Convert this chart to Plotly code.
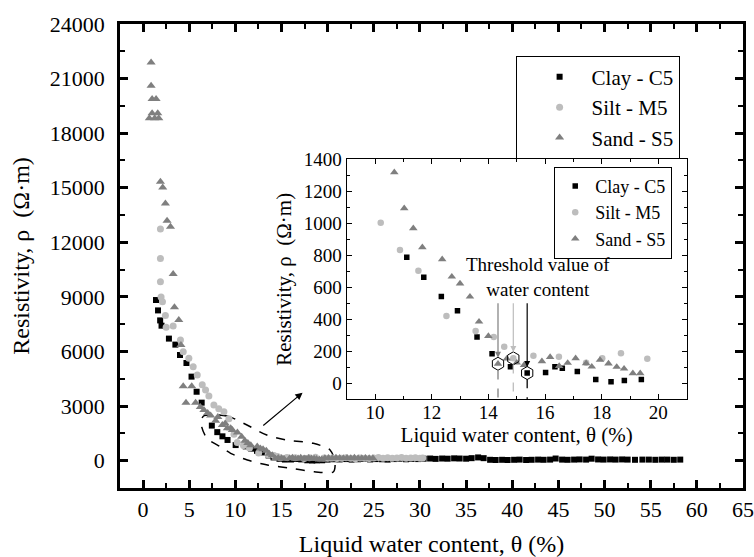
import plotly.graph_objects as go

FONT = "Liberation Serif, Times New Roman, Times, serif"

# ---------------- main chart data ----------------
clay_early_x = [1.40, 1.62, 1.85, 2.00, 2.80, 3.50, 4.00, 4.70, 5.25, 5.80, 6.35, 7.45, 8.04, 8.60, 9.15, 10.03]
clay_early_y = [8830, 8260, 7710, 7420, 6710, 6380, 5810, 5370, 4620, 3790, 3190, 1930, 1570, 1340, 1140, 860]
clay_tail_x = [20.0, 20.7, 21.3, 22.0, 22.6, 23.3, 23.9, 24.6, 25.2, 25.9, 26.5, 27.2, 27.8, 28.5, 29.1, 29.8,
               30.4, 31.1, 31.7, 32.4, 33.0, 33.7, 34.3, 35.0, 35.6, 36.3, 36.9,
               37.6, 38.2, 38.9, 39.5, 40.2, 40.8, 41.5, 42.1, 42.8, 43.4, 44.1, 44.7,
               45.4, 46.0, 46.7, 47.3, 48.0, 48.6, 49.3, 49.9, 50.6, 51.2, 51.9, 52.5, 53.3, 54.1, 54.8,
               55.5, 56.2, 56.8, 57.5, 58.2]
clay_tail_y = [60, 80, 70, 90, 60, 80, 100, 70, 90, 80, 60, 90, 110, 80, 100, 90,
               110, 120, 100, 120, 110, 130, 120, 110, 140, 180, 140,
               50, 40, 50, 40, 50, 60, 40, 50, 60, 50, 60, 120,
               60, 50, 60, 70, 60, 110, 70, 60, 70, 60, 70, 60, 50, 60, 60,
               50, 60, 60, 50, 60]

silt_early_x = [1.88, 1.88, 1.88, 1.95, 2.10, 2.42, 2.50, 3.26, 4.05, 4.35, 4.96, 5.43, 5.87, 6.41, 6.77, 7.13,
                7.67, 8.20, 8.76, 9.30, 9.85]
silt_early_y = [12730, 11110, 9840, 8990, 8740, 7980, 7340, 7400, 6630, 5990, 5630, 5170, 4710, 4180, 3890, 3560,
                3060, 2850, 2690, 2300, 1450]
silt_tail_x = [20.0, 20.5, 21.0, 21.5, 22.0, 22.5, 23.0, 23.5, 24.0, 24.5, 25.0, 25.5, 26.0, 26.5, 27.0, 27.5,
               28.0, 28.5, 29.0, 29.5, 30.0, 30.3]
silt_tail_y = [130, 150, 120, 140, 160, 130, 110, 150, 140, 120, 150, 170, 140, 160, 130, 150,
               170, 140, 150, 160, 130, 150]

sand_early_x = [0.68, 0.87, 0.87, 0.98, 1.41, 0.98, 1.59, 1.26, 1.70, 1.88, 2.13, 2.42, 2.60, 2.97, 3.26, 3.40,
                3.87, 4.10, 4.35, 5.27, 4.65, 5.69, 6.20, 6.59, 7.00, 7.32, 7.86, 8.10, 8.59, 8.90, 9.13, 9.49,
                9.67, 10.22]
sand_early_y = [18815, 21890, 20600, 19880, 19880, 19090, 19090, 18815, 18815, 15330, 15020, 14140, 13190, 12860,
                10260, 8430, 7730, 6360, 4090, 4090, 3190, 3190, 2950, 2780, 2620, 2480, 2200, 2400, 1960, 2050,
                1780, 1780, 1690, 1550]
sand_tail_x = [19.7, 20.1, 20.5, 20.9, 21.3, 21.7, 22.1, 22.5, 22.9, 23.3, 23.7, 24.1, 24.5, 24.9]
sand_tail_y = [130, 150, 140, 160, 150, 130, 150, 140, 160, 140, 130, 150, 140, 130]

# ---------------- inset data (also shown in the main chart) ----------------
clay_inset_x = [11.12, 11.72, 12.34, 12.91, 13.60, 14.13, 14.78, 15.37, 16.02, 16.35, 16.61, 17.14, 17.79, 18.33,
                18.80, 19.40]
clay_inset_y = [788, 663, 543, 454, 290, 185, 104, 64, 67, 104, 94, 73, 23, 10, 18, 23]
silt_inset_x = [10.20, 10.88, 11.53, 12.52, 13.55, 14.19, 14.56, 14.88, 15.59, 16.49, 17.45, 18.02, 18.68, 19.61]
silt_inset_y = [1004, 833, 704, 421, 327, 290, 229, 156, 172, 166, 128, 156, 188, 154]
sand_inset_x = [10.68, 11.03, 11.35, 11.67, 12.37, 12.71, 13.00, 13.35, 13.67, 14.00, 14.34, 14.65, 15.00, 15.26,
                15.89, 16.18, 16.50, 16.80, 17.08, 17.45, 17.65, 17.94, 18.24, 18.53, 18.79, 19.10, 19.36]
sand_inset_y = [1319, 1094, 969, 850, 775, 666, 623, 541, 385, 295, 122, 154, 129, 114, 137, 164, 108, 127, 156,
                125, 104, 146, 123, 102, 91, 62, 62]

# threshold points (clay, silt, sand)
thr_names = ["Clay", "Silt", "Sand"]
thr_x = [15.37, 14.88, 14.34]
thr_y = [64, 156, 122]
thr_colors = ["#000000", "#bdbdbd", "#7f7f7f"]

# dashed outline marking the zoomed region
outline_x = [6.55, 9.08, 11.26, 13.4, 15.57, 18.44, 20.26, 20.8, 20.6, 18.55, 16.0, 13.48, 11.3, 9.49, 8.4, 6.9,
             6.3, 6.55]
outline_y = [2456, 2456, 1962, 1412, 1137, 956, 588, -100, -620, -604, -417, -236, 38, 407, 760, 1250, 2000, 2456]

series = [
    ("Clay - C5", clay_early_x + clay_inset_x + clay_tail_x, clay_early_y + clay_inset_y + clay_tail_y,
     clay_inset_x, clay_inset_y, "square", "#000000", 6, 5.5),
    ("Silt - M5", silt_early_x + silt_inset_x + silt_tail_x, silt_early_y + silt_inset_y + silt_tail_y,
     silt_inset_x, silt_inset_y, "circle", "#bdbdbd", 7, 6.5),
    ("Sand - S5", sand_early_x + sand_inset_x + sand_tail_x, sand_early_y + sand_inset_y + sand_tail_y,
     sand_inset_x, sand_inset_y, "triangle-up", "#7f7f7f", 8, 7.5),
]

fig = go.Figure()

fig.add_trace(go.Scatter(x=outline_x, y=outline_y, mode="lines", showlegend=False, hoverinfo="skip",
                         line=dict(color="black", width=1.5, dash="dash", shape="spline", smoothing=0.8)))

for name, mx, my, ix, iy, sym, col, msz, isz in series:
    fig.add_trace(go.Scatter(x=mx, y=my, mode="markers", name=name, legend="legend",
                             marker=dict(symbol=sym, size=msz, color=col, line=dict(width=0))))
for name, mx, my, ix, iy, sym, col, msz, isz in series:
    fig.add_trace(go.Scatter(x=ix, y=iy, mode="markers", name=name, legend="legend2",
                             xaxis="x2", yaxis="y2",
                             marker=dict(symbol=sym, size=isz, color=col, line=dict(width=0))))

fig.add_trace(go.Scatter(x=thr_x, y=thr_y, mode="markers", showlegend=False, xaxis="x2", yaxis="y2",
                         marker=dict(symbol="hexagon-open", size=13, color="black", line=dict(width=1))))

# threshold arrows and dashed drop lines
arrow_top = [510, 510, 510]
arrow_tip = [102, 196, 160]
drop_top = [25, 118, 80]
for tx, col, at, tip, dt in zip(thr_x, thr_colors, arrow_top, arrow_tip, drop_top):
    fig.add_annotation(x=tx, y=tip, ax=tx, ay=at, xref="x2", yref="y2", axref="x2", ayref="y2",
                       showarrow=True, arrowhead=2, arrowsize=1, arrowwidth=1.2, arrowcolor=col, text="")
    fig.add_shape(type="line", xref="x2", yref="y2", x0=tx, x1=tx, y0=dt, y1=-100,
                  line=dict(color=col, width=1.3, dash="dash"))

fig.add_annotation(x=15.75, y=666, xref="x2", yref="y2", showarrow=False,
                   text="Threshold value of<br>water content",
                   font=dict(family=FONT, size=19, color="black"))

# arrow from the outlined region to the inset
fig.add_annotation(x=17.28, y=3737, ax=12.86, ay=1868, xref="x", yref="y", axref="x", ayref="y",
                   showarrow=True, arrowhead=2, arrowsize=1.2, arrowwidth=1.2, arrowcolor="black", text="")

axis_main = dict(showline=True, linecolor="black", linewidth=2.5, mirror="ticks", ticks="inside",
                 tickwidth=2.5, ticklen=8, tickcolor="black", showgrid=False, zeroline=False,
                 automargin=False, tickformat="d",
                 tickfont=dict(family=FONT, size=22, color="black"),
                 title_font=dict(family=FONT, size=24, color="black"))
axis_in = dict(showline=True, linecolor="black", linewidth=1.3, mirror="ticks", ticks="inside",
               tickwidth=1.2, ticklen=5, tickcolor="black", showgrid=False, zeroline=False,
               automargin=False, tickformat="d",
               tickfont=dict(family=FONT, size=19, color="black"),
               title_font=dict(family=FONT, size=21, color="black"))

fig.update_layout(
    width=754, height=557,
    margin=dict(l=120, r=11, t=24, b=69, autoexpand=False),
    paper_bgcolor="white", plot_bgcolor="white",
    font=dict(family=FONT, color="black"),
    xaxis=dict(axis_main, range=[-2.5, 65], tick0=0, dtick=5, ticklabelstandoff=0,
               minor=dict(dtick=2.5, ticks="inside", ticklen=5, tickwidth=2, tickcolor="black"),
               title=dict(text="Liquid water content, θ (%)", standoff=18)),
    yaxis=dict(axis_main, range=[-1500, 24000], tick0=0, dtick=3000, ticklabelstandoff=8,
               minor=dict(dtick=1500, ticks="inside", ticklen=5, tickwidth=2, tickcolor="black"),
               title=dict(text="Resistivity, ρ  (Ω·m)", standoff=14)),
    xaxis2=dict(axis_in, domain=[0.3639, 0.9096], anchor="y2", range=[9, 21], tick0=10, dtick=2,
                ticklabelstandoff=-4,
                minor=dict(dtick=1, ticks="inside", ticklen=3, tickwidth=1, tickcolor="black"),
                title=dict(text="Liquid water content, θ (%)", standoff=4)),
    yaxis2=dict(axis_in, domain=[0.1912, 0.7084], anchor="x2", range=[-100, 1400], tick0=0, dtick=200,
                ticklabelstandoff=0,
                minor=dict(dtick=100, ticks="inside", ticklen=3, tickwidth=1, tickcolor="black"),
                title=dict(text="Resistivity, ρ  (Ω·m)", standoff=6)),
    legend=dict(x=0.635, y=0.9317, xanchor="left", yanchor="top", bgcolor="white",
                bordercolor="black", borderwidth=1, itemwidth=54, indentation=11,
                font=dict(family=FONT, size=21, color="black")),
    legend2=dict(x=0.697, y=0.6925, xanchor="left", yanchor="top", bgcolor="white",
                 bordercolor="black", borderwidth=1, itemwidth=30,
                 font=dict(family=FONT, size=18, color="black")),
)

fig.write_html("out.html", config={"displayModeBar": False},
               post_script="document.body.style.margin='0px';document.body.style.overflow='hidden';")
